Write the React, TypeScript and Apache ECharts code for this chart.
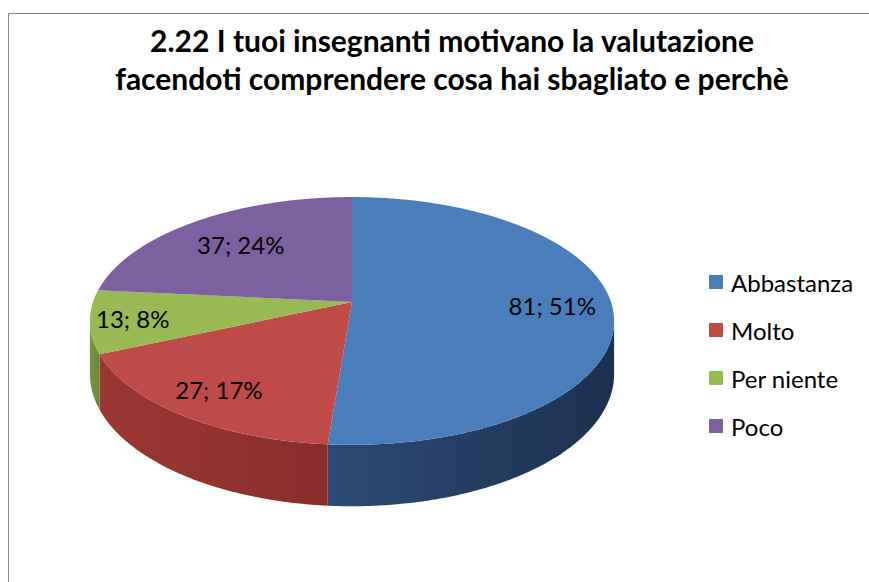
import React, { useEffect, useRef } from "react";
import * as echarts from "echarts";

const TITLE = "2.22 I tuoi insegnanti motivano la valutazione\nfacendoti comprendere cosa hai sbagliato e perchè";
const CATEGORIES = ["Abbastanza", "Molto", "Per niente", "Poco"];
const VALUES = [81, 27, 13, 37];
const PERCENTS = [51, 17, 8, 24];

const TOP_COLORS = ["#4A7EBB", "#BE4B48", "#98B954", "#7D60A0"];
const WALL_COLORS = [
  ["#2B4B74", "#1C3150"],
  ["#9B3733", "#8A2D2A"],
  ["#7A9642", "#6A8436"],
  ["#5E4679", "#4F3A66"],
];
const LABEL_R = [0.77, 0.8, 0.84, 0.69];

// projection of the tilted disc (simple perspective homography)
const CX = 352;
const CY = 302;
const A = 259;
const B = 121;
const K = 0.153;
const H = 52;
const FONT = "Lato, 'Open Sans', sans-serif";

function project(deg: number, r: number, drop: number): number[] {
  const t = (deg * Math.PI) / 180;
  const u = r * Math.sin(t);
  const v = r * Math.cos(t);
  const d = 1 + K * v;
  return [CX + (A * u) / d, CY + (-B * v + drop) / d];
}

function arc(a0: number, a1: number, r: number, drop: number): number[][] {
  const pts: number[][] = [];
  const n = Math.max(2, Math.ceil(Math.abs(a1 - a0) / 0.5));
  for (let i = 0; i <= n; i++) {
    pts.push(project(a0 + ((a1 - a0) * i) / n, r, drop));
  }
  return pts;
}

const TOTAL = VALUES.reduce((s, v) => s + v, 0);

function makeRenderItem(idx: number) {
  return (params: any, api: any) => {
    let before = 0;
    for (let i = 0; i < idx; i++) before += VALUES[i];
    const val = api.value(0);
    const start = (before / TOTAL) * 360;
    const end = ((before + val) / TOTAL) * 360;
    const t1 = 90 + (Math.asin(K) * 180) / Math.PI;
    const t2 = 360 - t1;
    const children: any[] = [];
    const lo = Math.max(start, t1);
    const hi = Math.min(end, t2);
    if (lo < hi) {
      const topArc = arc(lo, hi, 1, 0);
      const botArc = arc(hi, lo, 1, H);
      children.push({
        type: "polygon",
        z2: 1,
        shape: { points: topArc.concat(botArc) },
        style: {
          fill: new echarts.graphic.LinearGradient(0, 0, 1, 0, [
            { offset: 0, color: WALL_COLORS[idx][0] },
            { offset: 1, color: WALL_COLORS[idx][1] },
          ]),
        },
      });
    }
    const topPts = [[CX, CY]].concat(arc(start, end, 1, 0));
    children.push({
      type: "polygon",
      z2: 10,
      shape: { points: topPts },
      style: { fill: TOP_COLORS[idx] },
    });
    const mid = (start + end) / 2;
    const lp = project(mid, LABEL_R[idx], 0);
    children.push({
      type: "text",
      z2: 20,
      x: lp[0],
      y: lp[1],
      style: {
        text: `${val}; ${PERCENTS[idx]}%`,
        fill: "#000",
        font: `24px ${FONT}`,
        align: "center",
        verticalAlign: "middle",
      },
    });
    return { type: "group", children };
  };
}

export default function App() {
  const ref = useRef<HTMLDivElement>(null);
  useEffect(() => {
    if (!ref.current) return;
    const chart = echarts.init(ref.current, undefined, { renderer: "svg" });
    chart.setOption({
      animation: false,
      backgroundColor: "#fff",
      title: {
        text: TITLE,
        left: 447,
        top: 16,
        textAlign: "center",
        textStyle: {
          fontFamily: FONT,
          fontSize: 30,
          fontWeight: "bold",
          color: "#000",
          lineHeight: 38,
        },
      },
      legend: {
        orient: "vertical",
        left: 704,
        top: 265,
        icon: "rect",
        itemWidth: 14,
        itemHeight: 14,
        itemGap: 24,
        selectedMode: false,
        data: CATEGORIES,
        textStyle: { fontFamily: FONT, fontSize: 24, color: "#000", padding: [0, 0, 0, 3] },
      },
      graphic: [
        {
          type: "rect",
          shape: { x: 8.5, y: 13.5, width: 900, height: 620 },
          style: { fill: "none", stroke: "#868686", lineWidth: 1 },
          silent: true,
        },
      ],
      series: CATEGORIES.map((name, i) => ({
        type: "custom",
        name,
        coordinateSystem: "none",
        itemStyle: { color: TOP_COLORS[i] },
        data: [[VALUES[i]]],
        renderItem: makeRenderItem(i),
      })),
    });
    return () => chart.dispose();
  }, []);
  return (
    <div
      ref={ref}
      style={{ position: "fixed", left: 0, top: 0, width: 869, height: 582 }}
    />
  );
}
